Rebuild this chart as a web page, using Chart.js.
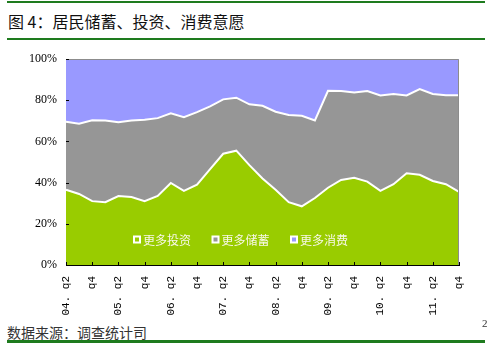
<!DOCTYPE html>
<html>
<head>
<meta charset="utf-8">
<script src="https://cdn.jsdelivr.net/npm/chart.js@4/dist/chart.umd.min.js"></script>
<style>
  html, body { margin: 0; padding: 0; background: #fff; }
  body { position: relative; width: 487px; height: 347px; overflow: hidden; }
  .rule { position: absolute; left: 7px; width: 478px; background: #1e7b1e; }
  #title { position: absolute; left: 8px; top: 9px; font: 16px "Noto Sans CJK SC", sans-serif; color: #111; white-space: nowrap; }
  #source { position: absolute; left: 7px; top: 322px; font: 14px "Noto Sans CJK SC", sans-serif; color: #333; white-space: nowrap; }
  #pageNo { position: absolute; left: 482px; top: 317px; font: 11px "Liberation Serif", serif; color: #333; }
  #wrap { position: absolute; left: 0; top: 42px; }
</style>
</head>
<body>
<div class="rule" style="top:1px;height:2px"></div>
<div id="title">图 4：居民储蓄、投资、消费意愿</div>
<div class="rule" style="top:38px;height:2px"></div>
<div id="wrap"><canvas id="chart" width="487" height="280"></canvas></div>
<div id="source">数据来源：调查统计司</div>
<div id="pageNo">2</div>
<div class="rule" style="top:340px;height:3px"></div>

<script>
const quarters = [
  '04.q2', '04.q3', '04.q4',
  '05.q1', '05.q2', '05.q3', '05.q4',
  '06.q1', '06.q2', '06.q3', '06.q4',
  '07.q1', '07.q2', '07.q3', '07.q4',
  '08.q1', '08.q2', '08.q3', '08.q4',
  '09.q1', '09.q2', '09.q3', '09.q4',
  '10.q1', '10.q2', '10.q3', '10.q4',
  '11.q1', '11.q2', '11.q3', '11.q4'
];
// shown on every second quarter
const tickLabels = [
  '04. q2', 'q4', '05. q2', 'q4', '06. q2', 'q4', '07. q2', 'q4',
  '08. q2', 'q4', '09. q2', 'q4', '10. q2', 'q4', '11. q2', 'q4'
];
const yTicks = [0, 20, 40, 60, 80, 100];

const moreInvest = [
  36.5, 34.5, 31.0, 30.5, 33.5, 33.0, 31.0, 33.5, 39.8, 36.0, 39.0,
  46.5, 54.0, 55.5, 48.5, 42.0, 36.5, 30.5, 28.5, 32.5, 37.5,
  41.3, 42.3, 40.5, 36.0, 39.2, 44.5, 43.8, 40.8, 39.2, 35.5
];
const moreSave = [
  33.0, 34.1, 39.3, 39.6, 35.8, 37.1, 39.5, 37.8, 33.8, 35.8, 35.2,
  30.5, 26.4, 25.7, 29.5, 35.3, 37.9, 42.3, 43.9, 37.7, 47.1,
  43.2, 41.5, 44.0, 46.3, 43.8, 37.8, 41.6, 42.2, 43.2, 46.9
];
const moreSpend = [
  30.5, 31.4, 29.7, 29.9, 30.7, 29.9, 29.5, 28.7, 26.4, 28.2, 25.8,
  23.0, 19.6, 18.8, 22.0, 22.7, 25.6, 27.2, 27.6, 29.8, 15.4,
  15.5, 16.2, 15.5, 17.7, 17.0, 17.7, 14.6, 17.0, 17.6, 17.6
];

const seriesNames = ['更多投资', '更多储蓄', '更多消费'];
const seriesColors = ['#99cc00', '#969696', '#9999ff'];

// grey frame on top/right plus short inward tick marks
const frame = {
  id: 'frame',
  afterDatasetsDraw(chart) {
    const { ctx, chartArea: a, scales: { x, y } } = chart;
    ctx.save();
    ctx.lineWidth = 1;
    ctx.strokeStyle = '#8c8c8c';
    ctx.beginPath();
    ctx.moveTo(a.left, a.top + 0.5);
    ctx.lineTo(a.right - 0.5, a.top + 0.5);
    ctx.lineTo(a.right - 0.5, a.bottom);
    ctx.stroke();

    ctx.strokeStyle = '#000';
    ctx.beginPath();
    yTicks.forEach(v => {
      const py = Math.round(y.getPixelForValue(v)) + 0.5;
      ctx.moveTo(a.left, py);
      ctx.lineTo(a.left + 3, py);
    });
    quarters.forEach((q, i) => {
      if (i % 2) return;
      const px = Math.round(x.getPixelForValue(i)) + 0.5;
      ctx.moveTo(px, a.bottom);
      ctx.lineTo(px, a.bottom - 3);
    });
    ctx.stroke();
    ctx.restore();
  }
};

// legend row sitting inside the plot, near the bottom
const innerLegend = {
  id: 'innerLegend',
  afterDraw(chart) {
    const { ctx, chartArea: a } = chart;
    const cy = a.bottom - 25;
    ctx.save();
    ctx.font = '12px "Noto Sans CJK SC", sans-serif';
    ctx.textBaseline = 'middle';
    chart.data.datasets.forEach((ds, i) => {
      const bx = a.left + 67 + i * 78.5;
      ctx.fillStyle = '#ffffff';
      ctx.fillRect(bx, cy - 4.5, 8, 8);
      ctx.fillStyle = ds.backgroundColor;
      ctx.fillRect(bx + 2, cy - 2.5, 4, 4);
      ctx.fillStyle = '#f8f8e8';
      ctx.fillText(ds.label, bx + 10, cy);
    });
    ctx.restore();
  }
};

new Chart(document.getElementById('chart'), {
  type: 'line',
  data: {
    labels: quarters,
    datasets: [
      { label: seriesNames[0], data: moreInvest, fill: 'origin',
        backgroundColor: seriesColors[0], borderColor: '#ffffff', borderWidth: 2 },
      { label: seriesNames[1], data: moreSave, fill: '-1',
        backgroundColor: seriesColors[1], borderColor: '#ffffff', borderWidth: 2 },
      { label: seriesNames[2], data: moreSpend, fill: '-1',
        backgroundColor: seriesColors[2], borderColor: 'rgba(0,0,0,0)', borderWidth: 0 }
    ]
  },
  options: {
    responsive: false,
    animation: false,
    layout: { padding: { top: 17, right: 28, left: 0, bottom: 0 } },
    elements: { point: { radius: 0 }, line: { tension: 0 } },
    plugins: { legend: { display: false }, tooltip: { enabled: false } },
    scales: {
      x: {
        offset: false,
        grid: { display: false, drawTicks: false },
        border: { display: true, color: '#000', width: 1 },
        afterFit(scale) { scale.height = 57; },
        ticks: {
          autoSkip: false,
          maxRotation: 90,
          minRotation: 90,
          padding: 11,
          color: '#000',
          font: { family: '"Liberation Mono", monospace', size: 11 },
          callback: (v, i) => (i % 2 === 0 ? tickLabels[i / 2] : '')
        }
      },
      y: {
        stacked: true,
        min: 0,
        max: 100,
        grid: { display: false, drawTicks: false },
        border: { display: true, color: '#000', width: 1 },
        afterFit(scale) { scale.width = 66; },
        ticks: {
          stepSize: 20,
          padding: 9,
          color: '#000',
          font: { family: '"Liberation Serif", serif', size: 12 },
          callback: v => v + '%'
        }
      }
    }
  },
  plugins: [frame, innerLegend]
});
</script>
</body>
</html>
